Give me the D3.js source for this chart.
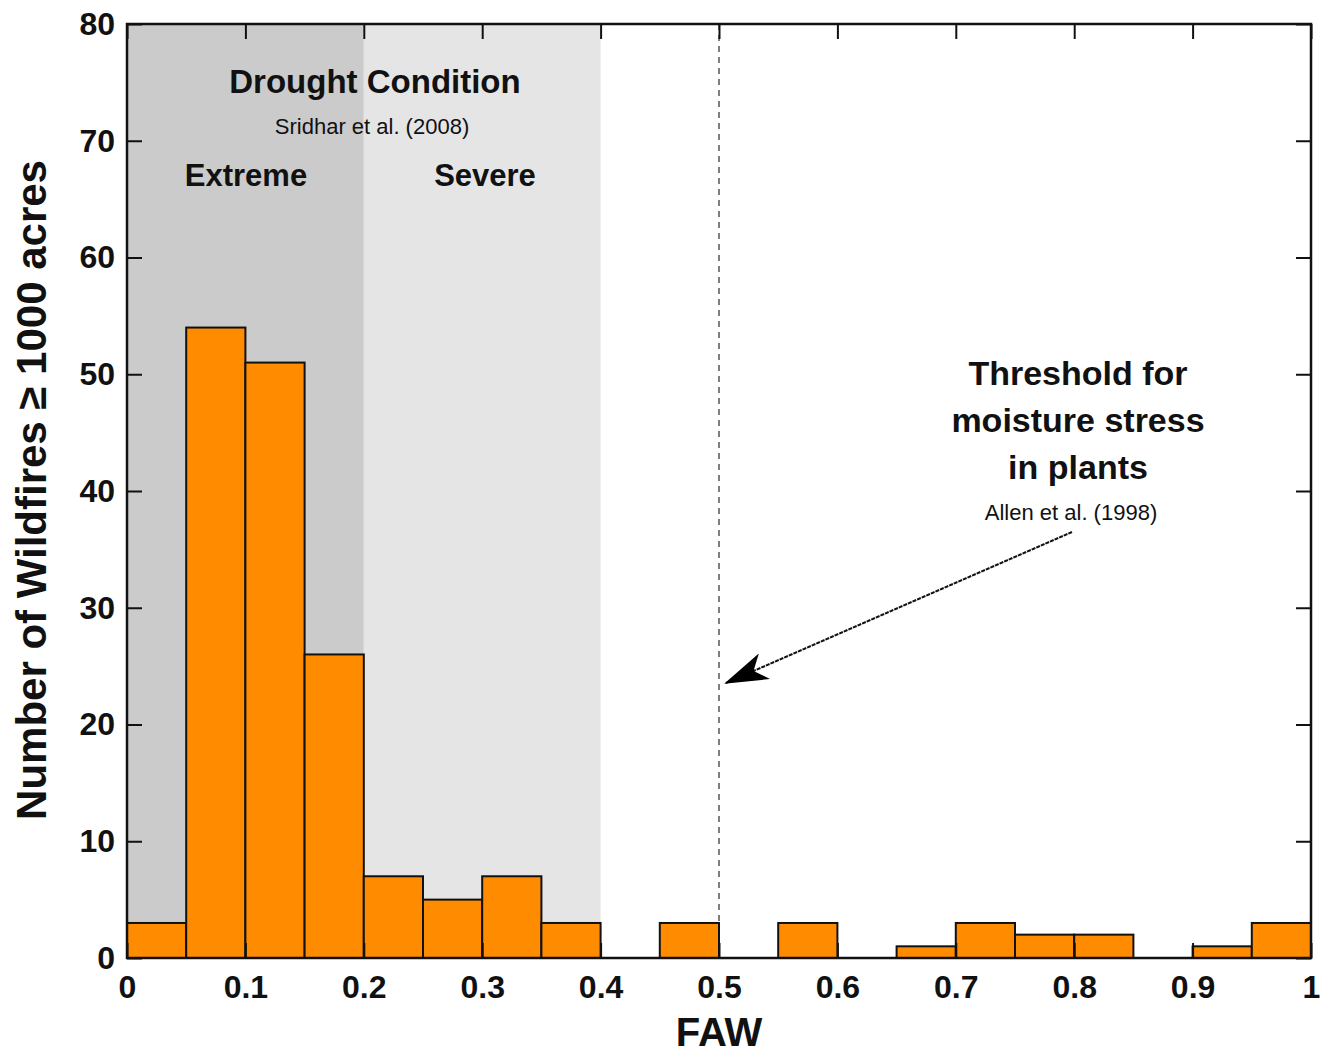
<!DOCTYPE html>
<html>
<head>
<meta charset="utf-8">
<script src="https://cdn.jsdelivr.net/npm/d3@7"></script>
<style>
  body { margin: 0; background: #fff; }
  text { font-family: "Liberation Sans", Arial, sans-serif; fill: #111; }
</style>
</head>
<body>
<div id="chart"></div>
<script>
// histogram bins (FAW) and counts
var binStarts = [0, 0.05, 0.1, 0.15, 0.2, 0.25, 0.3, 0.35, 0.4, 0.45, 0.5, 0.55, 0.6, 0.65, 0.7, 0.75, 0.8, 0.85, 0.9, 0.95];
var counts = [3, 54, 51, 26, 7, 5, 7, 3, 0, 3, 0, 3, 0, 1, 3, 2, 2, 0, 1, 3];
var binWidth = 0.05;
var xTicks = [0, 0.1, 0.2, 0.3, 0.4, 0.5, 0.6, 0.7, 0.8, 0.9, 1];
var yTicks = [0, 10, 20, 30, 40, 50, 60, 70, 80];
var zones = [
    {from: 0, to: 0.2, fill: "#cbcbcb", label: "Extreme"},
    {from: 0.2, to: 0.4, fill: "#e5e5e5", label: "Severe"}
];
var threshold = 0.5;

(function () {
    var W = 1321, H = 1055;
    var left = 127, right = 1311, top = 24, bottom = 958;

    var svg = d3.select("#chart").append("svg")
        .attr("width", W)
        .attr("height", H);

    var x = d3.scaleLinear().domain([0, 1]).range([left, right]);
    var y = d3.scaleLinear().domain([0, 80]).range([bottom, top]);

    //--drought zones
    svg.selectAll("rect.zone").data(zones).enter().append("rect")
        .attr("class", "zone")
        .attr("x", function (d) { return x(d.from); })
        .attr("y", top)
        .attr("width", function (d) { return x(d.to) - x(d.from); })
        .attr("height", bottom - top)
        .attr("fill", function (d) { return d.fill; });

    //--threshold line
    svg.append("line")
        .attr("x1", x(threshold)).attr("x2", x(threshold))
        .attr("y1", top).attr("y2", bottom)
        .attr("stroke", "#555")
        .attr("stroke-width", 1.5)
        .attr("stroke-dasharray", "6,5");

    //--bars
    var bins = binStarts.map(function (s, i) { return {x0: s, n: counts[i]}; });
    svg.selectAll("rect.bar").data(bins.filter(function (d) { return d.n > 0; })).enter().append("rect")
        .attr("class", "bar")
        .attr("x", function (d) { return x(d.x0); })
        .attr("y", function (d) { return y(d.n); })
        .attr("width", function (d) { return x(d.x0 + binWidth) - x(d.x0); })
        .attr("height", function (d) { return y(0) - y(d.n); })
        .attr("fill", "#ff8c00")
        .attr("stroke", "#111")
        .attr("stroke-width", 2);

    //--axes with inward ticks on all four sides
    var tickLen = 15;
    var xb = svg.append("g").attr("transform", "translate(0," + bottom + ")")
        .call(d3.axisBottom(x).tickValues(xTicks).tickSize(-tickLen).tickPadding(17).tickFormat(d3.format("")));
    var xt = svg.append("g").attr("transform", "translate(0," + top + ")")
        .call(d3.axisTop(x).tickValues(xTicks).tickSize(-tickLen).tickFormat(""));
    var yl = svg.append("g").attr("transform", "translate(" + left + ",0)")
        .call(d3.axisLeft(y).tickValues(yTicks).tickSize(-tickLen).tickPadding(12));
    var yr = svg.append("g").attr("transform", "translate(" + right + ",0)")
        .call(d3.axisRight(y).tickValues(yTicks).tickSize(-tickLen).tickFormat(""));
    [xb, xt, yl, yr].forEach(function (g) {
        g.select(".domain").remove();
        g.selectAll(".tick line").attr("stroke", "#111").attr("stroke-width", 2);
        g.selectAll(".tick text")
            .attr("font-size", 32)
            .attr("font-weight", "bold")
            .attr("font-family", "Liberation Sans, Arial, sans-serif")
            .attr("fill", "#111");
    });

    //--frame
    svg.append("rect")
        .attr("x", left).attr("y", top)
        .attr("width", right - left).attr("height", bottom - top)
        .attr("fill", "none")
        .attr("stroke", "#111")
        .attr("stroke-width", 2.5);

    //--axis titles
    svg.append("text")
        .attr("x", x(0.5)).attr("y", 1046)
        .attr("text-anchor", "middle")
        .attr("font-size", 40).attr("font-weight", "bold")
        .text("FAW");

    svg.append("text")
        .attr("transform", "translate(46," + 490 + ") rotate(-90)")
        .attr("text-anchor", "middle")
        .attr("font-size", 42).attr("font-weight", "bold")
        .text("Number of Wildfires \u2265 1000 acres");

    //--drought annotations
    svg.append("text")
        .attr("x", 375).attr("y", 93)
        .attr("text-anchor", "middle")
        .attr("font-size", 33).attr("font-weight", "bold")
        .text("Drought Condition");
    svg.append("text")
        .attr("x", 372).attr("y", 134)
        .attr("text-anchor", "middle")
        .attr("font-size", 22)
        .text("Sridhar et al. (2008)");
    svg.selectAll("text.zlab").data(zones).enter().append("text")
        .attr("class", "zlab")
        .attr("x", function (d, i) { return i === 0 ? 246 : 485; })
        .attr("y", 186)
        .attr("text-anchor", "middle")
        .attr("font-size", 31).attr("font-weight", "bold")
        .text(function (d) { return d.label; });

    //--threshold annotation
    var lines = ["Threshold for", "moisture stress", "in plants"];
    svg.selectAll("text.thr").data(lines).enter().append("text")
        .attr("class", "thr")
        .attr("x", 1078)
        .attr("y", function (d, i) { return 385 + i * 47; })
        .attr("text-anchor", "middle")
        .attr("font-size", 34).attr("font-weight", "bold")
        .text(function (d) { return d; });
    svg.append("text")
        .attr("x", 1071).attr("y", 520)
        .attr("text-anchor", "middle")
        .attr("font-size", 22)
        .text("Allen et al. (1998)");

    //--arrow
    svg.append("defs").append("marker")
        .attr("id", "head")
        .attr("viewBox", "0 0 44 28")
        .attr("refX", 42).attr("refY", 14)
        .attr("markerWidth", 44).attr("markerHeight", 28)
        .attr("markerUnits", "userSpaceOnUse")
        .attr("orient", "auto")
        .append("path")
        .attr("d", "M0,0 L44,14 L0,28 L12,14 Z")
        .attr("fill", "#000");
    svg.append("line")
        .attr("x1", 1072).attr("y1", 532)
        .attr("x2", x(threshold) + 7).attr("y2", 683)
        .attr("stroke", "#111")
        .attr("stroke-width", 2)
        .attr("stroke-dasharray", "4,1")
        .attr("marker-end", "url(#head)");
})();
</script>
</body>
</html>
